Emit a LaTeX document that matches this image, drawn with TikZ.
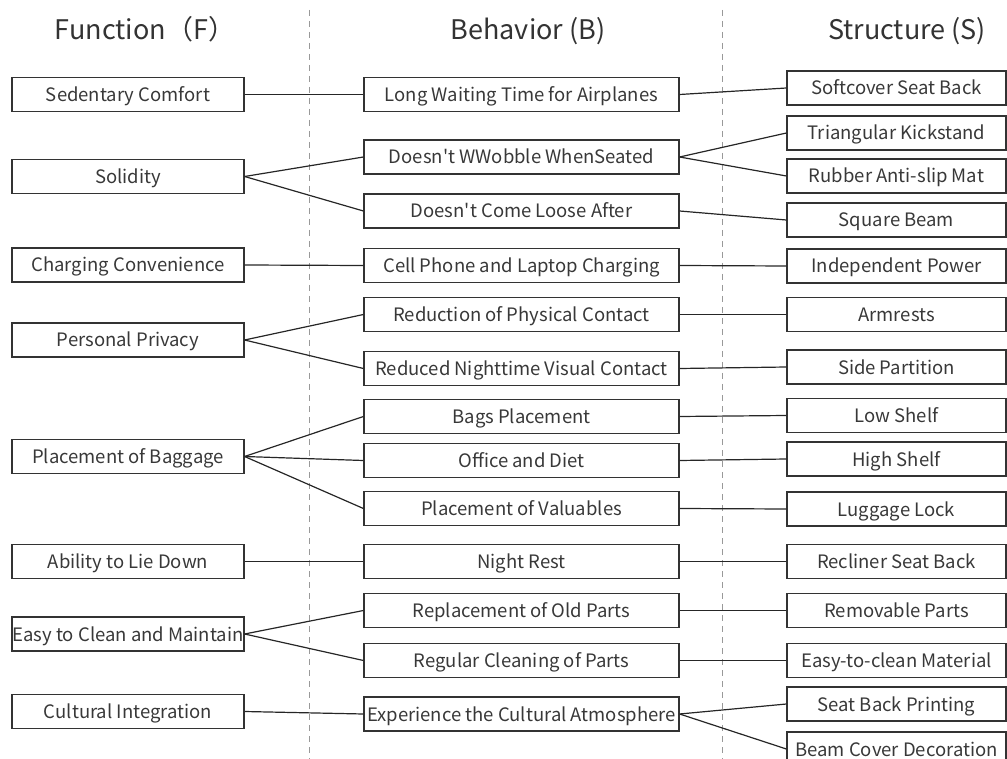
\documentclass[tikz,border=0pt]{standalone}
\usepackage{fontspec}
\setmainfont{Noto Sans CJK SC}[Ligatures=TeXOff]
\begin{document}
\begin{tikzpicture}[x=1pt,y=-1pt,
  bx/.style={draw=black!80, line width=1.2pt, inner sep=0pt, minimum height=34pt,
     text height=17pt, text depth=3pt, font=\fontsize{18.5}{20}\selectfont, text=black!78},
  fbox/.style={bx, minimum width=232pt},
  bbox/.style={bx, minimum width=315pt},
  sbox/.style={bx, minimum width=219pt},
  head/.style={font=\fontsize{27}{30}\selectfont, text=black!80, inner sep=0pt, anchor=base},
  link/.style={draw=black!85, line width=1.2pt},
  sep/.style={draw=black!40, line width=1pt, dash pattern=on 6pt off 5pt}]
\useasboundingbox (0,0) rectangle (1007,759);
\clip (0,0) rectangle (1007,759);
% separators
\coordinate (d1t) at (309,10); \coordinate (d1b) at (309,759);
\coordinate (d2t) at (722,10); \coordinate (d2b) at (722,759);
\draw[sep] (d1t) -- (d1b);
\draw[sep] (d2t) -- (d2b);
% headings
\node[head] (hF) at (145,40) {Function（F）};
\node[head] (hB) at (528,40) {Behavior (B)};
\node[head] (hS) at (907,40) {Structure (S)};
% function
\node[fbox] (f1) at (128,94.5) {Sedentary Comfort};
\node[fbox] (f2) at (128,176.5) {Solidity};
\node[fbox] (f3) at (128,265) {Charging Convenience};
\node[fbox] (f4) at (128,340) {Personal Privacy};
\node[fbox] (f5) at (128,456.5) {Placement of Baggage};
\node[fbox] (f6) at (128,561.5) {Ability to Lie Down};
\node[fbox] (f7) at (128,634) {Easy to Clean and Maintain};
\node[fbox] (f8) at (128,711.5) {Cultural Integration};
% behavior
\node[bbox] (b1) at (521.5,94.5) {Long Waiting Time for Airplanes};
\node[bbox] (b2) at (521.5,157) {Doesn't WWobble WhenSeated};
\node[bbox] (b3) at (521.5,211) {Doesn't Come Loose After};
\node[bbox] (b4) at (521.5,265.5) {Cell Phone and Laptop Charging};
\node[bbox] (b5) at (521.5,314.5) {Reduction of Physical Contact};
\node[bbox] (b6) at (521.5,368.5) {Reduced Nighttime Visual Contact};
\node[bbox] (b7) at (521.5,416.5) {Bags Placement};
\node[bbox] (b8) at (521.5,460.5) {Office and Diet};
\node[bbox] (b9) at (521.5,508.5) {Placement of Valuables};
\node[bbox] (b10) at (521.5,561.5) {Night Rest};
\node[bbox] (b11) at (521.5,610.5) {Replacement of Old Parts};
\node[bbox] (b12) at (521.5,660.5) {Regular Cleaning of Parts};
\node[bbox] (b13) at (521.5,714) {Experience the Cultural Atmosphere};
% structure
\node[sbox] (s1) at (896.5,88) {Softcover Seat Back};
\node[sbox] (s2) at (896.5,133) {Triangular Kickstand};
\node[sbox] (s3) at (896.5,176) {Rubber Anti-slip Mat};
\node[sbox] (s4) at (896.5,220) {Square Beam};
\node[sbox] (s5) at (896.5,266) {Independent Power};
\node[sbox] (s6) at (896.5,314.5) {Armrests};
\node[sbox] (s7) at (896.5,367) {Side Partition};
\node[sbox] (s8) at (896.5,415.5) {Low Shelf};
\node[sbox] (s9) at (896.5,459) {High Shelf};
\node[sbox] (s10) at (896.5,509) {Luggage Lock};
\node[sbox] (s11) at (896.5,561.5) {Recliner Seat Back};
\node[sbox] (s12) at (896.5,610.5) {Removable Parts};
\node[sbox] (s13) at (896.5,660.5) {Easy-to-clean Material};
\node[sbox] (s14) at (896.5,704) {Seat Back Printing};
\node[sbox] (s15) at (896.5,749) {Beam Cover Decoration};
% F-B links
\draw[link] (f1.east) -- (b1.west);
\draw[link] (f2.east) -- (b2.west);
\draw[link] (f2.east) -- (b3.west);
\draw[link] (f3.east) -- (b4.west);
\draw[link] (f4.east) -- (b5.west);
\draw[link] (f4.east) -- (b6.west);
\draw[link] (f5.east) -- (b7.west);
\draw[link] (f5.east) -- (b8.west);
\draw[link] (f5.east) -- (b9.west);
\draw[link] (f6.east) -- (b10.west);
\draw[link] (f7.east) -- (b11.west);
\draw[link] (f7.east) -- (b12.west);
\draw[link] (f8.east) -- (b13.west);
% B-S links
\draw[link] (b1.east) -- (s1.west);
\draw[link] (b2.east) -- (s2.west);
\draw[link] (b2.east) -- (s3.west);
\draw[link] (b3.east) -- (s4.west);
\draw[link] (b4.east) -- (s5.west);
\draw[link] (b5.east) -- (s6.west);
\draw[link] (b6.east) -- (s7.west);
\draw[link] (b7.east) -- (s8.west);
\draw[link] (b8.east) -- (s9.west);
\draw[link] (b9.east) -- (s10.west);
\draw[link] (b10.east) -- (s11.west);
\draw[link] (b11.east) -- (s12.west);
\draw[link] (b12.east) -- (s13.west);
\draw[link] (b13.east) -- (s14.west);
\draw[link] (b13.east) -- (s15.west);
\end{tikzpicture}
\end{document}
